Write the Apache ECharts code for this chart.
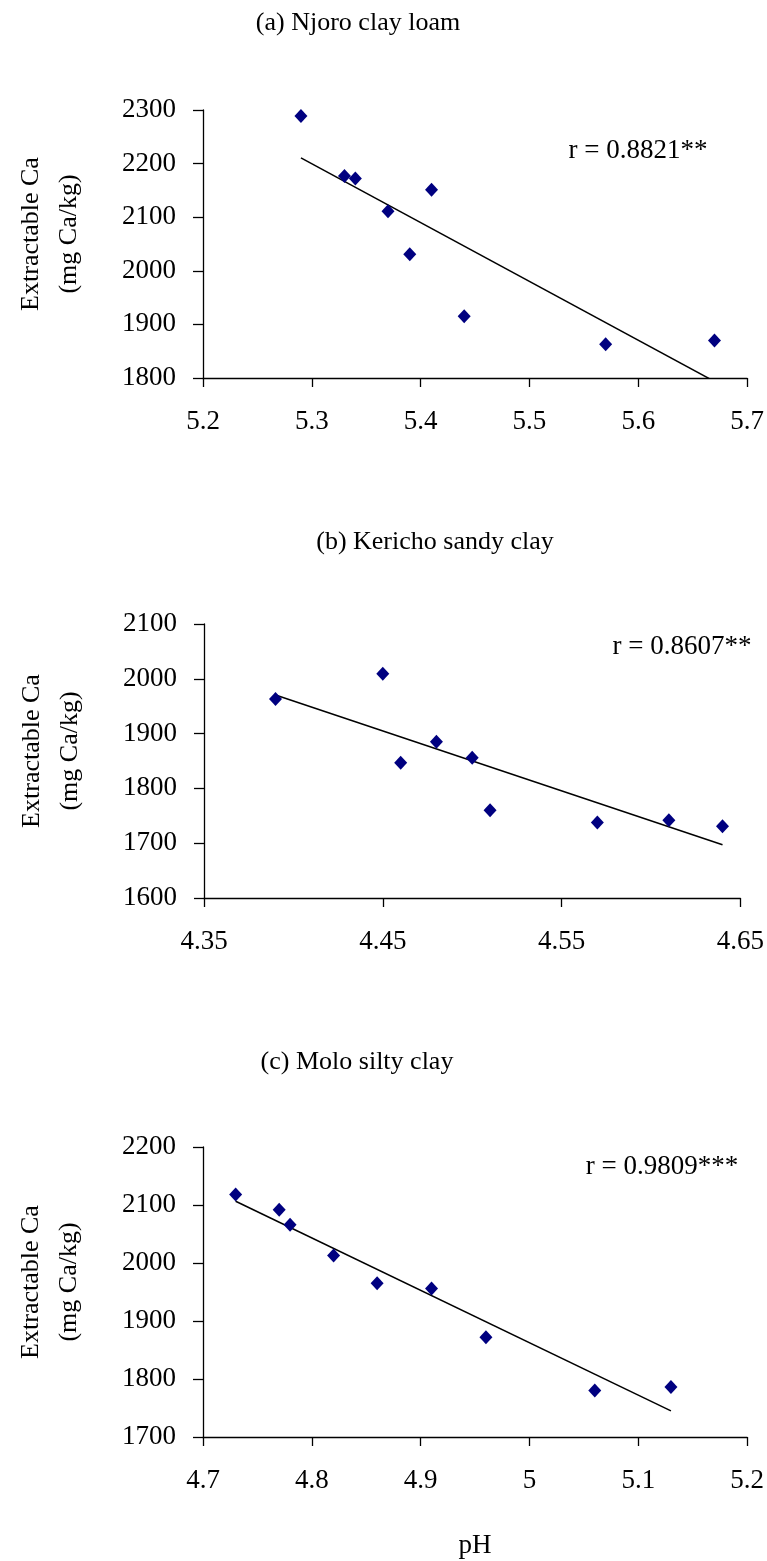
<!DOCTYPE html>
<html>
<head>
<meta charset="utf-8">
<script src="https://cdn.jsdelivr.net/npm/echarts@6/dist/echarts.min.js"></script>
<style>
  html, body { margin: 0; padding: 0; background: #ffffff; }
  #chart { width: 767px; height: 1561px; }
</style>
</head>
<body>
<div id="chart"></div>
<script>
// ---- data ----
const panelTitles = ['(a) Njoro clay loam', '(b) Kericho sandy clay', '(c) Molo silty clay'];
const rLabels = ['r = 0.8821**', 'r = 0.8607**', 'r = 0.9809***'];

const phA = [5.29, 5.33, 5.34, 5.37, 5.41, 5.39, 5.44, 5.57, 5.67];
const caA = [2289, 2177, 2172, 2111, 2151, 2031, 1915, 1863, 1870];

const phB = [4.39, 4.45, 4.46, 4.48, 4.50, 4.51, 4.57, 4.61, 4.64];
const caB = [1963, 2009, 1847, 1885, 1856, 1760, 1738, 1742, 1731];

const phC = [4.73, 4.77, 4.78, 4.82, 4.86, 4.91, 4.96, 5.06, 5.13];
const caC = [2118, 2092, 2066, 2013, 1965, 1956, 1872, 1780, 1786];

const xTicksA = [5.2, 5.3, 5.4, 5.5, 5.6, 5.7];
const yTicksA = [1800, 1900, 2000, 2100, 2200, 2300];
const xTicksB = [4.35, 4.45, 4.55, 4.65];
const yTicksB = [1600, 1700, 1800, 1900, 2000, 2100];
const xTicksC = [4.7, 4.8, 4.9, 5, 5.1, 5.2];
const yTicksC = [1700, 1800, 1900, 2000, 2100, 2200];

const yAxisTitle = 'Extractable Ca\n(mg Ca/kg)';
const xAxisTitle = 'pH';

// ---- helpers ----
function fitLine(xs, ys) {
  const n = xs.length;
  const mx = xs.reduce((a, b) => a + b, 0) / n;
  const my = ys.reduce((a, b) => a + b, 0) / n;
  let sxy = 0, sxx = 0;
  for (let i = 0; i < n; i++) { sxy += (xs[i] - mx) * (ys[i] - my); sxx += (xs[i] - mx) ** 2; }
  const b = sxy / sxx, a = my - b * mx;
  const x0 = Math.min(...xs), x1 = Math.max(...xs);
  return [[x0, a + b * x0], [x1, a + b * x1]];
}
function zip(xs, ys) { return xs.map((x, i) => [x, ys[i]]); }

const FONT = 'Liberation Serif';
const grids = [
  { left: 203, top: 110, width: 547, height: 268 },
  { left: 204, top: 624, width: 551, height: 274 },
  { left: 203, top: 1147, width: 551, height: 290 }
];
const xTicks = [xTicksA, xTicksB, xTicksC];
const yTicks = [yTicksA, yTicksB, yTicksC];
const xs = [phA, phB, phC];
const ys = [caA, caB, caC];

const axisLineStyle = { color: '#000', width: 1.3 };
const plain = v => String(v);

const xAxes = xTicks.map((t, i) => ({
  type: 'value', gridIndex: i, min: t[0], max: t[t.length - 1],
  axisLine: { show: true, onZero: false, lineStyle: axisLineStyle },
  axisTick: { show: true, length: 9, customValues: t, lineStyle: axisLineStyle },
  axisLabel: { customValues: t, formatter: plain, color: '#000', fontFamily: FONT, fontSize: 27, margin: 30, showMinLabel: true, showMaxLabel: true },
  splitLine: { show: false },
  name: i === 2 ? xAxisTitle : '', nameLocation: 'middle', nameGap: 95,
  nameTextStyle: { color: '#000', fontFamily: FONT, fontSize: 27 }
}));
const yAxes = yTicks.map((t, i) => ({
  type: 'value', gridIndex: i, min: t[0], max: t[t.length - 1],
  axisLine: { show: true, onZero: false, lineStyle: axisLineStyle },
  axisTick: { show: true, length: 10, customValues: t, lineStyle: axisLineStyle },
  axisLabel: { customValues: t, formatter: plain, color: '#000', fontFamily: FONT, fontSize: 27, margin: 27, showMinLabel: true, showMaxLabel: true },
  splitLine: { show: false },
  name: yAxisTitle, nameLocation: 'middle', nameRotate: 90, nameGap: 115,
  nameTextStyle: { color: '#000', fontFamily: FONT, fontSize: 26, lineHeight: 38, padding: [0, 0, 0, 20] }
}));

const series = [];
for (let i = 0; i < 3; i++) {
  series.push({
    type: 'line', xAxisIndex: i, yAxisIndex: i, data: fitLine(xs[i], ys[i]),
    showSymbol: false, symbol: 'none', clip: true, silent: true,
    lineStyle: { color: '#000', width: 1.5 }, z: 2
  });
  series.push({
    type: 'scatter', xAxisIndex: i, yAxisIndex: i, data: zip(xs[i], ys[i]),
    symbol: 'diamond', symbolSize: [13, 14],
    itemStyle: { color: '#000080', opacity: 1 }, z: 3
  });
}

const titlePos = [[358, 23], [435, 542], [357, 1062]];
const rPos = [[638, 151], [682, 647], [662, 1167]];
const graphics = [];
for (let i = 0; i < 3; i++) {
  graphics.push({ type: 'text', x: titlePos[i][0], y: titlePos[i][1],
    style: { text: panelTitles[i], fill: '#000', font: '26px "' + FONT + '"', align: 'center', verticalAlign: 'middle', textAlign: 'center', textVerticalAlign: 'middle' } });
  graphics.push({ type: 'text', x: rPos[i][0], y: rPos[i][1],
    style: { text: rLabels[i], fill: '#000', font: '27px "' + FONT + '"', align: 'center', verticalAlign: 'middle', textAlign: 'center', textVerticalAlign: 'middle' } });
}

const chart = echarts.init(document.getElementById('chart'), null, { renderer: 'canvas' });
chart.setOption({
  backgroundColor: '#ffffff',
  animation: false,
  grid: grids,
  xAxis: xAxes,
  yAxis: yAxes,
  series: series,
  graphic: graphics
});
</script>
</body>
</html>
